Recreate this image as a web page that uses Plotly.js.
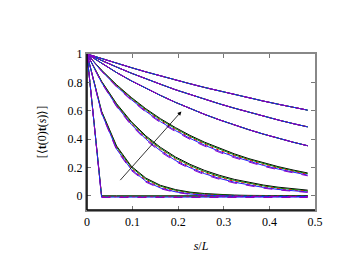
<!DOCTYPE html>
<html>
<head>
<meta charset="utf-8">
<script src="https://cdn.plot.ly/plotly-3.0.1.min.js"></script>
<style>html,body{margin:0;padding:0;background:#fff;}#chart{width:350px;height:270px;}</style>
</head>
<body>
<div id="chart"></div>
<script>
// s/L sample positions
const X = [0, 0.032, 0.065, 0.097, 0.129, 0.161, 0.194, 0.226, 0.258, 0.290, 0.323, 0.355, 0.387, 0.419, 0.452, 0.484];

// group 1 (steepest)
const g1Black  = [1, 0, 0, 0, 0, 0, 0, 0, 0, 0, 0, 0, 0, 0, 0, 0];
const g1Green  = [1, -0.003, -0.003, -0.003, -0.003, -0.003, -0.003, -0.003, -0.003, -0.003, -0.003, -0.003, -0.003, -0.003, -0.003, -0.003];
const g1Red    = [1, -0.006, -0.006, -0.006, -0.006, -0.006, -0.006, -0.006, -0.006, -0.006, -0.006, -0.006, -0.006, -0.006, -0.006, -0.006];
const g1Blue   = [1, -0.009, -0.009, -0.009, -0.009, -0.009, -0.009, -0.009, -0.009, -0.009, -0.009, -0.009, -0.009, -0.009, -0.009, -0.009];
const g1Purple = [1, -0.012, -0.012, -0.012, -0.012, -0.012, -0.012, -0.012, -0.012, -0.012, -0.012, -0.012, -0.012, -0.012, -0.012, -0.012];

// group 2
const g2Black  = [1, 0.597, 0.351, 0.209, 0.125, 0.074, 0.044, 0.026, 0.016, 0.009, 0.005, 0.003, 0.002, 0.001, 0.001, 0.000];
const g2Green  = [1, 0.592, 0.343, 0.201, 0.118, 0.068, 0.039, 0.022, 0.012, 0.006, 0.003, 0.001, 0.000, -0.001, -0.001, -0.002];
const g2Red    = [1, 0.588, 0.336, 0.193, 0.110, 0.061, 0.033, 0.017, 0.008, 0.003, 0.000, -0.001, -0.002, -0.002, -0.003, -0.003];
const g2Blue   = [1, 0.584, 0.329, 0.186, 0.103, 0.055, 0.028, 0.013, 0.005, 0.000, -0.002, -0.003, -0.003, -0.004, -0.004, -0.004];
const g2Purple = [1, 0.580, 0.322, 0.179, 0.097, 0.050, 0.024, 0.010, 0.002, -0.002, -0.004, -0.004, -0.005, -0.005, -0.005, -0.005];

// group 3
const g3Black  = [1, 0.808, 0.649, 0.524, 0.423, 0.342, 0.274, 0.222, 0.179, 0.145, 0.116, 0.094, 0.076, 0.061, 0.049, 0.040];
const g3Green  = [1, 0.805, 0.643, 0.517, 0.415, 0.334, 0.266, 0.214, 0.171, 0.137, 0.109, 0.087, 0.070, 0.055, 0.044, 0.035];
const g3Red    = [1, 0.802, 0.638, 0.510, 0.407, 0.325, 0.257, 0.205, 0.163, 0.130, 0.102, 0.081, 0.064, 0.050, 0.039, 0.031];
const g3Blue   = [1, 0.799, 0.633, 0.504, 0.400, 0.318, 0.249, 0.198, 0.156, 0.123, 0.096, 0.075, 0.059, 0.045, 0.035, 0.027];
const g3Purple = [1, 0.796, 0.628, 0.497, 0.393, 0.310, 0.242, 0.191, 0.149, 0.117, 0.090, 0.070, 0.054, 0.041, 0.031, 0.024];

// group 4
const g4Black  = [1, 0.886, 0.783, 0.694, 0.614, 0.544, 0.481, 0.426, 0.378, 0.335, 0.296, 0.262, 0.232, 0.206, 0.182, 0.161];
const g4Green  = [1, 0.884, 0.779, 0.689, 0.608, 0.537, 0.474, 0.419, 0.371, 0.328, 0.289, 0.256, 0.226, 0.200, 0.177, 0.156];
const g4Red    = [1, 0.882, 0.775, 0.684, 0.602, 0.530, 0.467, 0.412, 0.364, 0.321, 0.283, 0.250, 0.220, 0.195, 0.172, 0.151];
const g4Blue   = [1, 0.880, 0.771, 0.679, 0.596, 0.523, 0.460, 0.405, 0.357, 0.314, 0.276, 0.244, 0.214, 0.189, 0.167, 0.146];
const g4Purple = [1, 0.878, 0.767, 0.674, 0.590, 0.516, 0.453, 0.398, 0.350, 0.307, 0.269, 0.238, 0.208, 0.184, 0.162, 0.141];

// groups 5-7 (all series coincide)
const g5Values = [1, 0.934, 0.869, 0.811, 0.758, 0.708, 0.659, 0.615, 0.574, 0.536, 0.499, 0.466, 0.435, 0.406, 0.378, 0.353];
const g6Values = [1, 0.953, 0.908, 0.865, 0.824, 0.787, 0.748, 0.714, 0.680, 0.649, 0.618, 0.589, 0.561, 0.535, 0.509, 0.486];
const g7Values = [1, 0.967, 0.935, 0.904, 0.874, 0.845, 0.817, 0.790, 0.764, 0.739, 0.715, 0.691, 0.668, 0.646, 0.625, 0.604];

const xTickVals = [0, 0.1, 0.2, 0.3, 0.4, 0.5];
const yTickVals = [0, 0.2, 0.4, 0.6, 0.8, 1];

const seriesByColour = [
  {color: '#000000', dash: 'solid', ys: [g1Black, g2Black, g3Black, g4Black, g5Values, g6Values, g7Values]},
  {color: '#008000', dash: 'solid', ys: [g1Green, g2Green, g3Green, g4Green, g5Values, g6Values, g7Values]},
  {color: '#ff0000', dash: 'dot',   ys: [g1Red, g2Red, g3Red, g4Red, g5Values, g6Values, g7Values]},
  {color: '#2020ff', dash: 'solid', ys: [g1Blue, g2Blue, g3Blue, g4Blue, g5Values, g6Values, g7Values]},
  {color: '#8a00c8', dash: 'dash',  ys: [g1Purple, g2Purple, g3Purple, g4Purple, g5Values, g6Values, g7Values]}
];

const traces = [];
seriesByColour.forEach(s => {
  s.ys.forEach(y => {
    traces.push({x: X, y: y, type: 'scatter', mode: 'lines',
      line: {color: s.color, width: 1, dash: s.dash}, hoverinfo: 'skip', showlegend: false});
  });
});

const font = {family: 'Liberation Serif', size: 12, color: '#000'};

const layout = {
  width: 350, height: 270,
  margin: {l: 87, r: 35, t: 54, b: 60},
  paper_bgcolor: '#fff', plot_bgcolor: '#fff',
  font: font,
  showlegend: false,
  xaxis: {
    range: [0, 0.5], tickvals: xTickVals, ticktext: xTickVals.map(String),
    ticks: 'inside', ticklen: 4, tickcolor: '#777', tickwidth: 1,
    showline: true, linecolor: '#888', linewidth: 2, mirror: 'ticks',
    showgrid: false, zeroline: false,
    title: {text: '<i>s</i>/<i>L</i>', font: font, standoff: 13}
  },
  yaxis: {
    range: [-0.1, 1], tickvals: yTickVals, ticktext: yTickVals.map(String),
    ticks: 'inside', ticklen: 4, tickcolor: '#777', tickwidth: 1,
    showline: true, linecolor: '#888', linewidth: 2, mirror: 'ticks',
    showgrid: false, zeroline: false,
    title: {text: '[⟨<b>t</b>(0)<b>t</b>(<i>s</i>)⟩]', font: font, standoff: 18}
  },
  shapes: [
    {type: 'line', xref: 'paper', yref: 'paper', x0: 0, x1: 0, y0: 0, y1: 1, line: {color: '#000', width: 1.5}},
    {type: 'line', xref: 'paper', yref: 'paper', x0: 0, x1: 1, y0: 0, y1: 0, line: {color: '#000', width: 1.5}}
  ],
  annotations: [{
    x: 0.207, y: 0.595, ax: 0.07, ay: 0.1, xref: 'x', yref: 'y', axref: 'x', ayref: 'y',
    text: '', showarrow: true, arrowhead: 2, arrowsize: 1, arrowwidth: 0.8, arrowcolor: '#000'
  }]
};

Plotly.newPlot('chart', traces, layout, {staticPlot: true, displayModeBar: false});
</script>
</body>
</html>
